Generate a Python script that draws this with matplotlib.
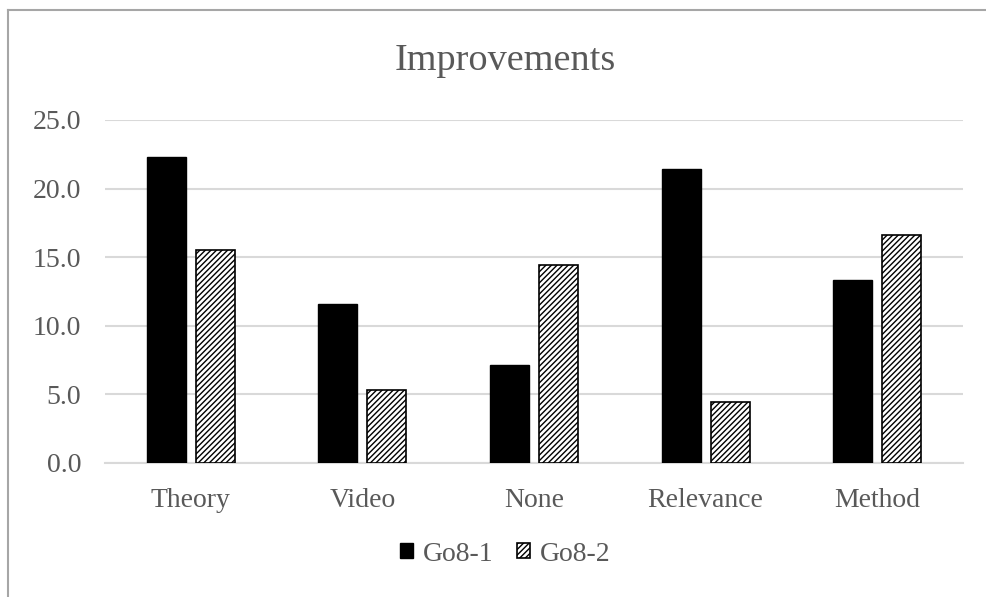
import numpy as np
import matplotlib
matplotlib.use("Agg")
import matplotlib.pyplot as plt
from matplotlib.lines import Line2D

categories = ["Theory", "Video", "None", "Relevance", "Method"]
go8_1 = [22.3, 11.6, 7.1, 21.4, 13.3]
go8_2 = [15.5, 5.3, 14.4, 4.4, 16.6]
yticks = [0, 5, 10, 15, 20, 25]

plt.rcParams['font.family'] = ['Liberation Serif', 'DejaVu Serif']
plt.rcParams['hatch.linewidth'] = 1.0
txt = '#595959'
grid = '#d9d9d9'

fig = plt.figure(figsize=(9.87, 5.97), dpi=100)
ax = fig.add_axes([0.1064, 0.225, 0.8693, 0.574])

x = np.arange(len(categories))
w = 0.227
off = 0.143
ax.bar(x - off, go8_1, w, color='black', edgecolor='black', label='Go8-1', zorder=3)
ax.bar(x + off, go8_2, w, color='white', edgecolor='black', hatch='//////',
       linewidth=1.2, label='Go8-2', zorder=3)

ax.set_xlim(-0.5, len(categories) - 0.5)
ax.set_ylim(0, 25)
ax.set_yticks(yticks)
ax.set_yticklabels([f"{v:.1f}" for v in yticks])
ax.set_xticks(x)
ax.set_xticklabels(categories)
ax.tick_params(axis='both', length=0, labelsize=20, colors=txt)
ax.tick_params(axis='y', pad=17)
ax.tick_params(axis='x', pad=18)
ax.yaxis.grid(True, color=grid, linewidth=1.5, zorder=0)
for s in ['left', 'right', 'top']:
    ax.spines[s].set_visible(False)
ax.spines['bottom'].set_color(grid)
ax.spines['bottom'].set_linewidth(1.5)
ax.spines['bottom'].set_zorder(2)

fig.text(0.512, 0.898, "Improvements", ha='center', va='center', fontsize=27.5, color=txt)

leg = fig.legend(loc='center', bbox_to_anchor=(0.512, 0.072), ncol=2, frameon=False,
                 fontsize=20, handlelength=0.47, handleheight=0.47, handletextpad=0.35,
                 columnspacing=0.85)
for t in leg.get_texts():
    t.set_color(txt)

# outer chart frame, only the left and top edges fall inside the image
fig.add_artist(Line2D([8 / 987, 8 / 987], [0, 1 - 10 / 597], transform=fig.transFigure,
                      color='#a6a6a6', linewidth=1.5))
fig.add_artist(Line2D([8 / 987, 1], [1 - 10 / 597, 1 - 10 / 597], transform=fig.transFigure,
                      color='#a6a6a6', linewidth=1.5))

fig.savefig("out.png", dpi=100, facecolor='white')
